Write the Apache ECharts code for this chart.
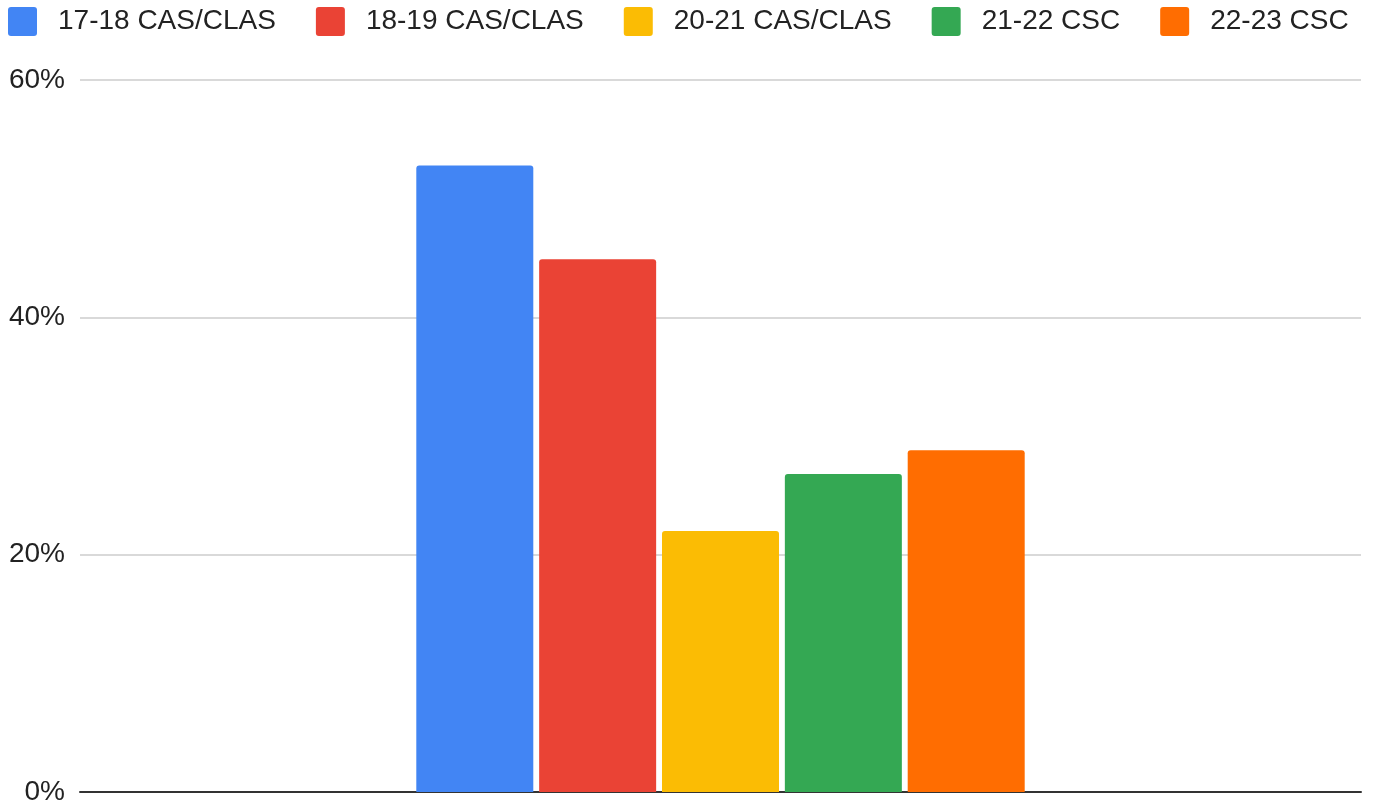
<!DOCTYPE html>
<html><head><meta charset="utf-8">
<script src="https://cdn.jsdelivr.net/npm/echarts@6/dist/echarts.min.js"></script>
<style>html,body{margin:0;padding:0;background:#fff}#c{width:1379px;height:806px}</style>
</head><body><div id="c"></div>
<script>
const categories = [''];
const seriesNames = ['17-18 CAS/CLAS', '18-19 CAS/CLAS', '20-21 CAS/CLAS', '21-22 CSC', '22-23 CSC'];
const seriesValues = [[52.8], [44.9], [22.0], [26.8], [28.8]];
const seriesColors = ['#4285F4', '#EA4335', '#FBBC04', '#34A853', '#FF6D01'];
const yTicks = [0, 20, 40, 60];

const chart = echarts.init(document.getElementById('c'));
chart.setOption({
  animation: false,
  textStyle: { fontFamily: 'Liberation Sans, Arial, sans-serif' },
  legend: {
    left: 0, top: 7, padding: [0, 0, 0, 8],
    itemWidth: 29, itemHeight: 29, itemGap: 40,
    icon: 'path://M3,0H26Q29,0 29,3V26Q29,29 26,29H3Q0,29 0,26V3Q0,0 3,0Z',
    textStyle: { fontSize: 28, color: '#222', padding: [0, 0, 0, 16] },
    data: seriesNames
  },
  grid: { left: 80, right: 18, top: 80, bottom: 9, containLabel: false },
  xAxis: {
    type: 'category', data: categories,
    axisLine: { lineStyle: { color: '#333', width: 2 } },
    axisTick: { show: false }, axisLabel: { show: false }
  },
  yAxis: {
    type: 'value', min: yTicks[0], max: yTicks[yTicks.length - 1], interval: 20,
    axisLine: { show: false }, axisTick: { show: false },
    splitLine: { lineStyle: { color: '#ccc', width: 1.5 } },
    axisLabel: { formatter: '{value}%', fontSize: 28, color: '#222', margin: 15 }
  },
  series: seriesNames.map((n, i) => ({
    name: n, type: 'bar', data: seriesValues[i],
    barWidth: 117, barGap: '5%',
    itemStyle: { color: seriesColors[i], borderRadius: [3, 3, 0, 0] }
  }))
});
</script></body></html>
